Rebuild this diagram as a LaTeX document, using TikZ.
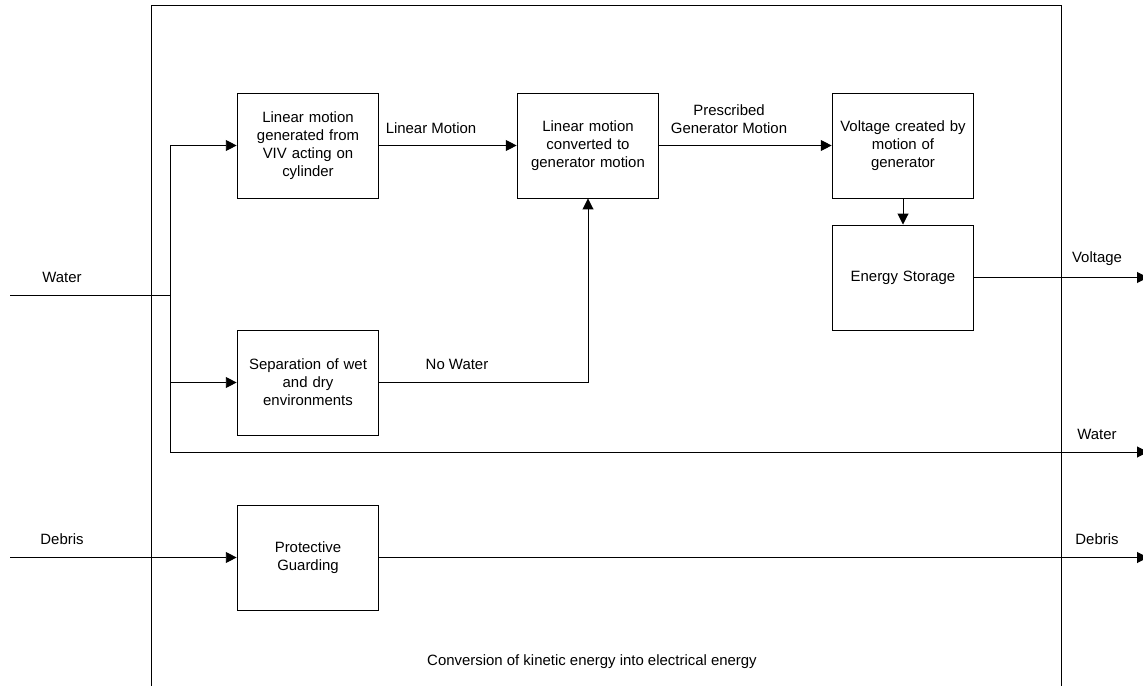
\documentclass[tikz,border=0pt]{standalone}
\usepackage{fontspec}
\setmainfont{Liberation Sans}
\usetikzlibrary{arrows.meta}
\begin{document}
\begin{tikzpicture}[x=0.02cm, y=-0.02cm, line width=0.55pt, >={Triangle[length=6.2pt,width=6.2pt]},
        every node/.style={font=\fontsize{8.5}{10.2}\selectfont},
        block/.style={draw, minimum width=2.8cm, minimum height=2.1cm, text width=2.6cm, align=center}]
        \useasboundingbox (0,0) rectangle (1143,686);
        % outer frame
        \draw (151,686) |- (1061,5) -- (1061,686);
        % blocks
        \node[block] (viv) at (308,145.5) {Linear motion\\generated from\\VIV acting on\\cylinder};
        \node[block] (conv) at (588,145.5) {Linear motion\\converted to\\generator motion};
        \node[block] (volt) at (903,145.5) {Voltage created by\\motion of\\generator};
        \node[block] (store) at (903,277.5) {Energy Storage};
        \node[block] (sep) at (308,382.5) {Separation of wet\\and dry\\environments};
        \node[block] (guard) at (308,557.5) {Protective\\Guarding};
        % ends
        \coordinate (win) at (10,295);
        \coordinate (split) at (170,295);
        \coordinate (din) at (10,557.5);
        \coordinate (vout) at (1148,277.5);
        \coordinate (wout) at (1148,452);
        \coordinate (dout) at (1148,557.5);
        % connectors
        \draw (win) -- (split);
        \draw[->] (split) |- (viv.west);
        \draw[->] (split) |- (sep.west);
        \draw[->] (split) |- (wout);
        \draw[->] (viv.east) -- (conv.west);
        \draw[->] (conv.east) -- (volt.west);
        \draw[->] (volt.south) -- (store.north);
        \draw[->] (store.east) -- (vout);
        \draw[->] (sep.east) -| (conv.south);
        \draw[->] (din) -- (guard.west);
        \draw[->] (guard.east) -- (dout);
        % labels
        \node (lwin) at (62,277) {Water};
        \node (ldin) at (62,539) {Debris};
        \node (llin) at (431,128) {Linear Motion};
        \node[align=center] (lgen) at (729,119) {Prescribed\\Generator Motion};
        \node (lnow) at (457,364) {No Water};
        \node (lvout) at (1097,259) {Voltage};
        \node (lwout) at (1097,434) {Water};
        \node (ldout) at (1097,539) {Debris};
        \node (ltitle) at (592,662) {Conversion of kinetic energy into electrical energy};
    \end{tikzpicture}
\end{document}
